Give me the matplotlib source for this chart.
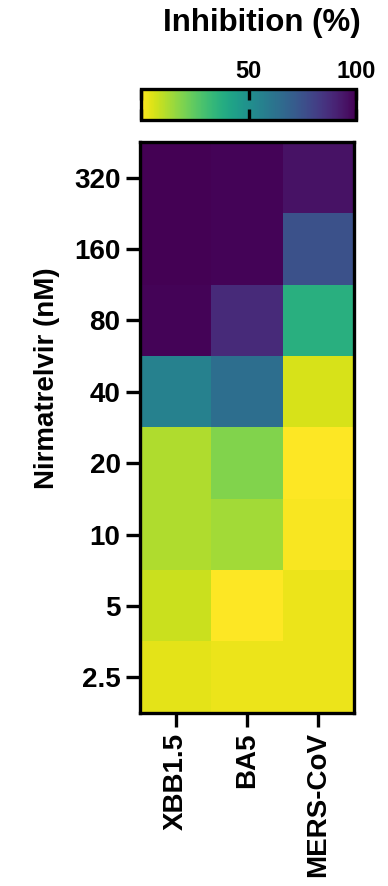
import numpy as np
import matplotlib.pyplot as plt

plt.rcParams['font.family'] = ['Liberation Sans', 'DejaVu Sans']
plt.rcParams['font.weight'] = 'bold'

# ---------------- data ----------------
variants = ['XBB1.5', 'BA5', 'MERS-CoV']
conc_labels = ['320', '160', '80', '40', '20', '10', '5', '2.5']
# inhibition (%) per concentration (rows, top to bottom) and variant (columns)
inhibition = np.array([
    [100, 99, 95],
    [100, 99, 75],
    [99, 88, 37],
    [56, 64, 6],
    [12, 19, 0],
    [12, 14, 1],
    [8, 0, 3],
    [4, 3, 3],
])

# ---------------- figure ----------------
W, H = 388, 886
fig = plt.figure(figsize=(W / 100, H / 100), dpi=100)


def box(l, t, r, b):
    # pixel box -> figure fraction
    return [l / W, 1 - b / H, (r - l) / W, (b - t) / H]


ax = fig.add_axes(box(140, 142, 354, 713))
im = ax.imshow(inhibition, cmap='viridis_r', vmin=0, vmax=100,
               aspect='auto', interpolation='nearest')
ax.set_xticks(range(len(variants)), variants, rotation=90)
ax.set_yticks(range(len(conc_labels)), conc_labels)
ax.tick_params(length=10, width=2.4, labelsize=20, pad=4)
ax.set_ylabel('Nirmatrelvir (nM)', fontsize=20, fontweight='bold')
ax.yaxis.set_label_coords(-0.375, 0.587)
for s in ax.spines.values():
    s.set_linewidth(2.4)

# ---------------- colorbar ----------------
cax = fig.add_axes(box(141, 89, 356, 120))
cb = fig.colorbar(im, cax=cax, orientation='horizontal', ticks=[0, 50, 100])
cb.set_ticklabels(['', '50', '100'])
cax.xaxis.set_ticks_position('both')
cax.tick_params(direction='in', length=8, width=2.4, labeltop=True,
                labelbottom=False, labelsize=17, pad=4)
cb.outline.set_linewidth(2.4)

fig.text(262 / W, 1 - 31 / H, 'Inhibition (%)', ha='center', va='baseline',
         fontsize=22.5, fontweight='bold')

fig.savefig('out.png', dpi=100)
